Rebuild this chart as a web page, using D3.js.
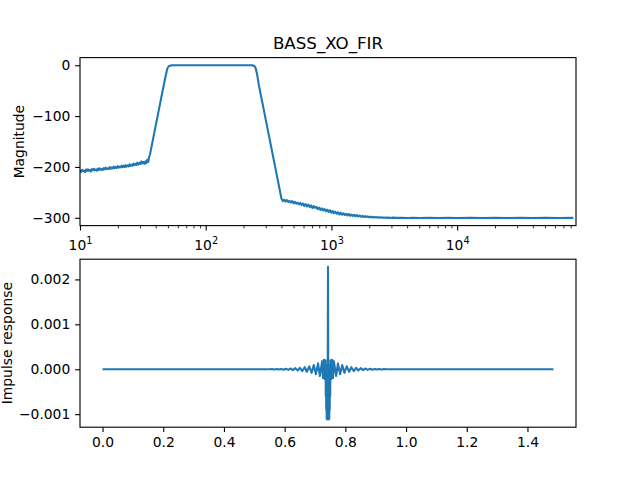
<!DOCTYPE html>
<html>
<head>
<meta charset="utf-8">
<script src="https://cdn.jsdelivr.net/npm/d3@7"></script>
<style>
  body { margin: 0; background: #fff; }
  text { font-family: "DejaVu Sans", sans-serif; fill: #000; }
</style>
</head>
<body>
<div id="chart"></div>
<script>
// magnitude response (Hz / dB)
const lowStopHz = [
  10, 10.2, 10.4, 10.55, 10.75, 10.95, 11.15, 11.35, 11.55, 11.75,
  11.95, 12.2, 12.4, 12.65, 12.9, 13.1, 13.35, 13.6, 13.85, 14.1,
  14.35, 14.6, 14.9, 15.15, 15.45, 15.7, 16.0, 16.3, 16.6, 16.9,
  17.2, 17.5, 17.85, 18.15, 18.5, 18.85, 19.2, 19.55, 19.9, 20.3,
  20.6, 21.0, 21.4, 21.8, 22.2, 22.6, 23.0, 23.4, 23.85, 24.3,
  24.75, 25.2, 25.65, 26.1, 26.6, 27.1, 27.6, 28.1, 28.6, 29.1,
  29.65, 30.2, 30.75, 31.3, 31.9, 32.5, 33.1, 33.7, 34.3, 34.9,
  35.5];
const lowStopDb = [
  -206, -209.5, -205.5, -208.5, -207, -210, -205, -208, -204.5, -207.5,
  -206, -209, -204, -207, -203.5, -206.5, -205, -207.5, -203, -206,
  -202.5, -205.5, -204, -206, -202, -204.5, -201.5, -204.5, -202.5, -204,
  -200.5, -203.5, -201, -203, -199.5, -202.5, -200, -202, -198.5, -201.5,
  -199.5, -201, -197.5, -200.5, -198, -200, -196.5, -199.5, -197, -199,
  -195, -198, -195.5, -197.5, -193.5, -196.5, -194, -196, -191.5, -195,
  -192, -194.5, -189, -193, -190, -194, -189, -192.5, -186, -190,
  -180];

const bandHz = [36, 38, 40, 42, 44, 46, 48, 49.6, 51, 53, 56, 60, 80, 120, 180, 225, 235, 242, 248,
  255, 265, 280, 300, 330, 360, 380, 398];
const bandDb = [-176, -146.7, -119, -92.7, -67.4, -43.4, -21, -6, -1.5, -0.3, 0, 0, 0, 0, 0, 0, -0.2, -1, -4,
  -15, -39.7, -69.4, -106.5, -157.9, -204.8, -234, -259];

const highStopHz = [
  400, 410, 420, 431, 442, 453, 464, 476, 488, 500,
  512, 525, 538, 552, 566, 580, 594, 609, 624, 640,
  656, 672, 689, 706, 724, 742, 760, 779, 799, 819,
  839, 860, 882, 904, 926, 950, 973, 998, 1023, 1048,
  1074, 1101, 1129, 1157, 1186, 1216, 1246, 1277, 1309, 1342,
  1375, 1410, 1445, 1481, 1518, 1556, 1595, 1635, 1676, 1718,
  1761, 1805, 1850, 1896, 1944, 1992, 2042, 2093, 2146, 2199,
  2254, 2311, 2368, 2428, 2488, 2551, 2614, 2680, 2747, 2815,
  2886, 2958, 3032, 3300, 3600, 4000, 4500, 5000, 6000, 7000,
  8500, 10000, 13000, 16000, 20000, 25000, 32000, 40000, 50000, 65000,
  84000];
const highStopDb = [
  -262, -267, -264.5, -268, -265, -269, -266.5, -270, -267, -271.5,
  -268.5, -272, -270, -273.5, -270.5, -275, -272, -276.5, -273, -277.5,
  -274, -279, -275.5, -281, -277, -280.5, -278.5, -283, -280, -284.5,
  -281.5, -285.5, -282.5, -287, -284, -288.5, -285, -290, -286.5, -291,
  -288, -292, -289, -293.5, -290, -294, -291, -294.5, -292, -295.5,
  -292.5, -296, -293.5, -296.5, -294, -297, -294.5, -297.5, -295.5, -298,
  -296, -298.5, -296.5, -298.5, -297, -299, -297.5, -299.3, -298, -299.5,
  -298.3, -299.6, -298.7, -299.8, -299, -300, -299.3, -300, -299.5, -300.1,
  -299.6, -300.2, -299.7, -300.2, -299.9, -300.3, -300, -300.3, -300.1, -300.3,
  -300.1, -300.3, -300.2, -300.3, -300.2, -300.3, -300.2, -300.3, -300.2, -300.3,
  -300.2];

// impulse response (s / amplitude)
const irLeftT = [0, 0.550, 0.558, 0.566, 0.574, 0.581, 0.589, 0.597, 0.604, 0.612, 0.620, 0.627, 0.635,
  0.643, 0.650, 0.658, 0.666, 0.673, 0.681, 0.689, 0.696, 0.703, 0.710, 0.716];
const irLeftV = [0, 0, 0.000003, -0.000004, 0.000005, -0.000007, 0.000008, -0.00001, 0.000012, -0.000015,
  0.000018, -0.00002, 0.000024, -0.000028, 0.000033, -0.00004, 0.000046, -0.000055, 0.000065, -0.00008,
  0.000095, -0.00011, 0.00013, -0.00015];

const irCoreT = [0.7235, 0.7265, 0.7295, 0.7325, 0.7345, 0.7355, 0.7362, 0.7370, 0.7377, 0.7385, 0.7392,
  0.7400, 0.7407, 0.7415, 0.7428, 0.7440, 0.7448, 0.7455, 0.7463, 0.7470, 0.7478, 0.7485, 0.7493,
  0.7500, 0.7511, 0.7531, 0.7561, 0.7591, 0.7621];
const irCoreV = [0.00018, -0.0002, 0.00021, -0.00022, 0.0002, -0.0006, 0.0001, -0.0009, -0.0001, -0.0011,
  -0.0002, -0.00112, -0.0003, -0.0011, 0.00228, -0.0011, -0.0003, -0.00112, -0.0002, -0.0011, -0.0001,
  -0.0009, 0.0001, -0.0006, 0.0002, -0.00022, 0.00021, -0.0002, 0.00018];

const irRightT = [0.7696, 0.7756, 0.7826, 0.7896, 0.7966, 0.8046, 0.8126, 0.8196, 0.8276, 0.8356, 0.8426,
  0.8506, 0.8586, 0.8656, 0.8736, 0.8816, 0.8886, 0.8966, 0.9046, 0.9116, 0.9196, 0.9276, 0.9356, 1.4856];
const irRightV = [-0.00015, 0.00013, -0.00011, 0.000095, -0.00008, 0.000065, -0.000055, 0.000046, -0.00004,
  0.000033, -0.000028, 0.000024, -0.00002, 0.000018, -0.000015, 0.000012, -0.00001, 0.000008,
  -0.000007, 0.000005, -0.000004, 0.000003, 0, 0];

// ticks
const freqDecades = [10, 100, 1000, 10000];
const magTicks = [-300, -200, -100, 0];
const timeTicks = [0, 0.2, 0.4, 0.6, 0.8, 1.0, 1.2, 1.4];
const irTicks = [-0.001, 0, 0.001, 0.002];

const chartTitle = 'BASS_XO_FIR';

// matplotlib-ish sizes (pt -> px at 100 dpi)
const pt = 100 / 72;
const W = 640, H = 480;
const left = 80, right = 576;
const top1 = 57.6, bot1 = 225.6, top2 = 259.2, bot2 = 427.2;
const blue = '#1f77b4';
const fontPx = 10 * pt;

const magData = [];
[[lowStopHz, lowStopDb], [bandHz, bandDb], [highStopHz, highStopDb]].forEach(([f, m]) => {
  f.forEach((v, i) => magData.push([v, m[i]]));
});
const irData = [];
[[irLeftT, irLeftV], [irCoreT, irCoreV], [irRightT, irRightV]].forEach(([t, v]) => {
  t.forEach((d, i) => irData.push([d, v[i]]));
});

function padded(ext) {
  const p = (ext[1] - ext[0]) * 0.05;
  return [ext[0] - p, ext[1] + p];
}

const x1 = d3.scaleLog().domain([10, 88200]).range([left, right]);
const y1 = d3.scaleLinear().domain(padded(d3.extent(magData, d => d[1]))).range([bot1, top1]);
const x2 = d3.scaleLinear().domain(padded(d3.extent(irData, d => d[0]))).range([left, right]);
const y2 = d3.scaleLinear().domain(padded(d3.extent(irData, d => d[1]))).range([bot2, top2]);

const svg = d3.select('#chart').append('svg')
  .attr('width', W)
  .attr('height', H);

svg.append('rect').attr('width', W).attr('height', H).attr('fill', '#fff');

const defs = svg.append('defs');
defs.append('clipPath').attr('id', 'clip1')
  .append('rect').attr('x', left).attr('y', top1).attr('width', right - left).attr('height', bot1 - top1);
defs.append('clipPath').attr('id', 'clip2')
  .append('rect').attr('x', left).attr('y', top2).attr('width', right - left).attr('height', bot2 - top2);

function styleAxis(g) {
  g.select('.domain').remove();
  g.selectAll('.tick line').attr('stroke', '#000').attr('stroke-width', 0.8 * pt);
  g.selectAll('.tick text')
    .attr('font-size', fontPx)
    .attr('font-family', '"DejaVu Sans", sans-serif')
    .attr('fill', '#000');
}

// ---- top: magnitude ----
svg.append('path')
  .datum(magData)
  .attr('clip-path', 'url(#clip1)')
  .attr('fill', 'none')
  .attr('stroke', blue)
  .attr('stroke-width', 1.5 * pt)
  .attr('stroke-linejoin', 'round')
  .attr('d', d3.line().x(d => x1(d[0])).y(d => y1(d[1])));

// minor log ticks
const minorTicks = [];
freqDecades.forEach(dec => {
  for (let k = 2; k <= 9; k++) if (dec * k < 88200) minorTicks.push(dec * k);
});
svg.append('g')
  .attr('transform', `translate(0,${bot1})`)
  .call(d3.axisBottom(x1).tickValues(minorTicks).tickSize(2 * pt).tickFormat(''))
  .call(styleAxis)
  .selectAll('.tick line').attr('stroke-width', 0.6 * pt);

const majorAx = svg.append('g')
  .attr('transform', `translate(0,${bot1})`)
  .call(d3.axisBottom(x1).tickValues(freqDecades).tickSize(3.5 * pt).tickFormat(''))
  .call(styleAxis);
majorAx.selectAll('.tick').each(function (d) {
  const t = d3.select(this).append('text')
    .attr('y', 24.9)
    .attr('text-anchor', 'middle')
    .attr('font-size', fontPx);
  t.append('tspan').text('10');
  t.append('tspan')
    .attr('font-size', fontPx * 0.7)
    .attr('dy', -6.5)
    .text(Math.round(Math.log10(d)));
});

svg.append('g')
  .attr('transform', `translate(${left},0)`)
  .call(d3.axisLeft(y1).tickValues(magTicks).tickSize(3.5 * pt).tickPadding(3.5 * pt).tickFormat(d3.format('d')))
  .call(styleAxis);

svg.append('rect')
  .attr('x', left).attr('y', top1)
  .attr('width', right - left).attr('height', bot1 - top1)
  .attr('fill', 'none').attr('stroke', '#000').attr('stroke-width', 0.8 * pt);

svg.append('text')
  .attr('x', (left + right) / 2)
  .attr('y', 49)
  .attr('text-anchor', 'middle')
  .attr('font-size', 12 * pt)
  .text(chartTitle);

svg.append('text')
  .attr('transform', `translate(23.5,${(top1 + bot1) / 2}) rotate(-90)`)
  .attr('text-anchor', 'middle')
  .attr('font-size', fontPx)
  .text('Magnitude');

// ---- bottom: impulse response ----
svg.append('path')
  .datum(irData)
  .attr('clip-path', 'url(#clip2)')
  .attr('fill', 'none')
  .attr('stroke', blue)
  .attr('stroke-width', 1.5 * pt)
  .attr('stroke-linejoin', 'round')
  .attr('d', d3.line().x(d => x2(d[0])).y(d => y2(d[1])));

svg.append('g')
  .attr('transform', `translate(0,${bot2})`)
  .call(d3.axisBottom(x2).tickValues(timeTicks).tickSize(3.5 * pt).tickPadding(3.5 * pt).tickFormat(d3.format('.1f')))
  .call(styleAxis);

svg.append('g')
  .attr('transform', `translate(${left},0)`)
  .call(d3.axisLeft(y2).tickValues(irTicks).tickSize(3.5 * pt).tickPadding(3.5 * pt).tickFormat(d3.format('.3f')))
  .call(styleAxis);

svg.append('rect')
  .attr('x', left).attr('y', top2)
  .attr('width', right - left).attr('height', bot2 - top2)
  .attr('fill', 'none').attr('stroke', '#000').attr('stroke-width', 0.8 * pt);

svg.append('text')
  .attr('transform', `translate(11.5,${(top2 + bot2) / 2}) rotate(-90)`)
  .attr('text-anchor', 'middle')
  .attr('font-size', fontPx)
  .text('Impulse response');
</script>
</body>
</html>
